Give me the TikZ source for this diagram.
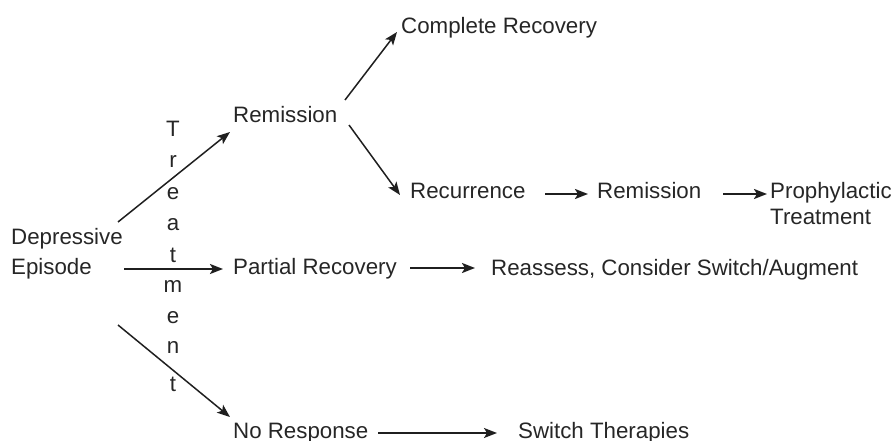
\documentclass[tikz,border=0pt]{standalone}
\usepackage{fontspec}
\setmainfont{Liberation Sans}
\usetikzlibrary{arrows.meta}
\begin{document}
\begin{tikzpicture}[x=1pt,y=-1pt,
  lbl/.style={anchor=base west,inner sep=0pt,font=\fontsize{22.3}{26}\selectfont,text=black!85},
  ltr/.style={anchor=base,inner sep=0pt,font=\fontsize{22.3}{26}\selectfont,text=black!85},
  arr/.style={draw=black!88,line width=1.5pt,-{Stealth[length=13pt,width=10pt,inset=3pt]}},
  harr/.style={arr,line width=2.2pt}]
\useasboundingbox (0,0) rectangle (895,441);
\node[lbl] (dep) at (11,244) {Depressive};
\node[lbl] (epi) at (11,274) {Episode};
\node[lbl] (rem1) at (233,123) {Remission};
\node[lbl] (partial) at (233,274) {Partial Recovery};
\node[lbl] (nores) at (233,438) {No Response};
\node[lbl] (complete) at (401,34) {Complete Recovery};
\node[lbl] (recur) at (410,199) {Recurrence};
\node[lbl] (rem2) at (597,199) {Remission};
\node[lbl] (proph) at (770,199) {Prophylactic};
\node[lbl] (treat) at (770,225) {Treatment};
\node[lbl] (reass) at (491,275) {Reassess, Consider Switch/Augment};
\node[lbl] (switch) at (518,438) {Switch Therapies};
% vertical "Treatment"
\node[ltr] (t1) at (173,137) {T};
\node[ltr] (t2) at (173,168) {r};
\node[ltr] (t3) at (173,200) {e};
\node[ltr] (t4) at (173,230) {a};
\node[ltr] (t5) at (173,262) {t};
\node[ltr] (t6) at (173,292) {m};
\node[ltr] (t7) at (173,323) {e};
\node[ltr] (t8) at (173,353) {n};
\node[ltr] (t9) at (173,391) {t};
% connectors
\draw[arr] ([shift={(107,-22)}]dep.base west) -- ([shift={(-3,9)}]rem1.base west);
\draw[harr] ([shift={(113,-5)}]epi.base west) -- ([shift={(-10,-5)}]partial.base west);
\draw[arr] ([shift={(107,51)}]epi.base west) -- ([shift={(-3,-21)}]nores.base west);
\draw[arr] ([shift={(112,-23)}]rem1.base west) -- ([shift={(-4,-2)}]complete.base west);
\draw[arr] ([shift={(116,2)}]rem1.base west) -- ([shift={(-10,-4)}]recur.base west);
\draw[harr] ([shift={(135,-5)}]recur.base west) -- ([shift={(-9,-5)}]rem2.base west);
\draw[harr] ([shift={(126,-5)}]rem2.base west) -- ([shift={(-3,-5)}]proph.base west);
\draw[harr] ([shift={(177,-6)}]partial.base west) -- ([shift={(-16,-7)}]reass.base west);
\draw[arr] ([shift={(145,-5)}]nores.base west) -- ([shift={(-21,-5)}]switch.base west);
\end{tikzpicture}
\end{document}
